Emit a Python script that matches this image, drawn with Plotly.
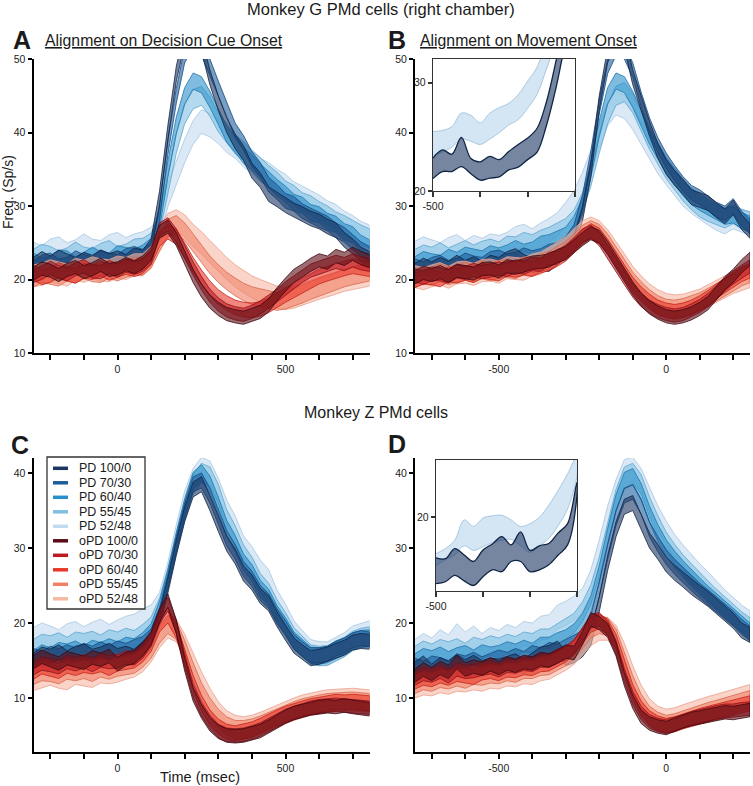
import plotly.graph_objects as go

W, H = 753, 786

# ---------------- time grids ----------------
T_CUE = list(range(-250, 751, 25))     # panels A, C (aligned on decision cue)
T_MOV = list(range(-750, 251, 25))     # panels B, D (aligned on movement onset)
T_INSET = list(range(-500, -199, 20))  # insets

SERIES = ["PD 100/0", "PD 70/30", "PD 60/40", "PD 55/45", "PD 52/48",
          "oPD 100/0", "oPD 70/30", "oPD 60/40", "oPD 55/45", "oPD 52/48"]
COLORS = ["#1b3561", "#1c5d9c", "#2a8fc9", "#7fbfe2", "#c2dbef",
          "#5a0d16", "#bd1b21", "#e9372b", "#f08166", "#f6b8a4"]
EDGES = ["#0f2445", "#154a80", "#1f77ad", "#5ea6cf", "#a6c8e3",
         "#3f0810", "#8f1218", "#c4241b", "#d9674c", "#eba08b"]
SEM = [1.0, 1.0, 1.1, 1.3, 1.6, 0.9, 0.9, 1.0, 1.2, 1.5]

# ---------------- Panel A : Monkey G, decision cue ----------------
A_PD100 = [22.0,22.8,22.2,23.0,22.5,22.0,22.7,22.3,23.0,22.5, 22.9,22.4,23.3,23.0,24.5,31.0,40.0,48.0,53.0,54.0, 52.0,47.5,44.0,41.0,38.8,37.2,34.8,33.5,31.6,30.9, 30.1,29.4,28.9,28.3,27.9,27.2,26.7,25.4,24.5,23.4, 22.8]
A_PD70 = [21.5,22.3,22.6,21.8,22.0,22.9,22.4,22.1,23.0,22.6, 22.4,23.2,23.5,23.1,24.0,29.0,38.0,45.0,50.5,52.5, 51.5,49.0,46.0,43.2,40.3,38.6,36.4,34.9,32.9,31.9, 30.7,30.3,29.3,28.7,28.1,27.6,26.7,26.1,25.1,24.1, 23.5]
A_PD60 = [22.5,21.8,22.1,22.9,22.8,22.0,22.6,23.3,22.7,22.5, 23.5,23.3,23.0,23.6,24.5,28.0,35.0,41.0,45.0,47.0, 46.5,44.5,42.2,39.8,38.4,36.9,35.9,34.6,33.6,32.5, 31.6,30.5,30.1,29.1,28.8,27.9,27.5,26.5,26.1,24.9, 24.3]
A_PD55 = [22.8,23.5,23.2,22.6,23.0,23.8,23.1,22.9,23.6,24.0, 23.2,23.5,24.2,24.3,25.0,27.5,33.0,38.5,42.5,44.5, 45.0,43.5,41.4,39.9,38.4,37.5,36.2,35.3,34.2,33.3, 32.1,31.5,30.5,30.1,29.3,28.7,27.9,27.4,26.7,26.1, 25.6]
A_PD52 = [23.5,23.0,23.9,24.2,23.4,23.8,24.6,23.9,23.7,24.5, 24.8,24.1,24.6,24.9,25.5,27.0,31.5,34.5,37.5,40.0, 41.5,41.0,40.1,38.9,38.1,36.9,36.1,34.9,34.3,33.4, 32.7,31.7,31.1,30.4,29.9,29.1,28.6,27.7,27.1,26.3, 25.8]
A_oPD100 = [20.8,21.5,21.2,20.6,21.3,21.7,21.0,21.4,22.0,21.3, 21.5,22.1,21.7,22.3,23.5,26.5,27.2,25.5,23.0,20.5, 18.5,17.0,16.0,15.3,15.0,14.8,15.2,15.6,16.5,18.0, 19.3,20.5,21.2,22.0,22.6,22.3,23.2,22.8,23.5,22.9, 22.5]
A_oPD70 = [20.5,20.9,21.6,21.0,20.7,21.4,21.8,21.1,21.0,21.7, 21.2,21.9,21.6,22.0,23.0,26.8,27.5,26.0,23.8,21.5, 19.5,17.8,16.6,15.8,15.4,15.2,15.6,16.2,17.0,17.8, 18.8,19.6,20.5,21.2,21.6,22.0,22.4,22.1,22.6,22.2, 22.0]
A_oPD60 = [20.9,20.3,20.6,21.3,20.8,20.5,21.2,21.0,21.5,20.9, 21.3,21.7,21.4,21.8,23.0,25.5,26.5,25.8,24.0,22.0, 20.3,18.8,17.6,16.8,16.2,15.9,15.8,16.0,16.5,17.2, 17.9,18.6,19.2,19.8,20.4,20.8,21.2,21.5,21.8,21.6, 21.4]
A_oPD55 = [20.2,20.8,20.6,20.3,21.0,20.7,21.3,20.9,20.8,21.4, 21.0,21.5,21.8,21.8,22.8,25.0,27.0,27.5,26.5,25.0, 23.5,22.0,20.8,19.8,19.0,18.3,17.8,17.5,17.2,17.0, 17.2,17.6,18.0,18.5,19.0,19.4,19.8,20.2,20.5,20.8, 21.0]
A_oPD52 = [20.5,20.7,21.2,20.9,20.6,21.4,21.1,21.6,21.3,21.2, 21.7,21.5,22.0,22.0,23.0,25.5,27.5,28.0,27.3,26.0, 25.0,23.8,22.6,21.5,20.5,19.7,19.0,18.5,18.0,17.6, 17.4,17.6,18.0,18.4,18.8,19.2,19.5,19.9,20.2,20.4, 20.6]

# ---------------- Panel B : Monkey G, movement onset ----------------
B_PD100 = [21.2,21.9,21.4,22.0,21.5,22.3,21.6,22.1,21.5,22.3, 22.0,22.8,23.2,22.4,21.9,22.2,22.1,23.0,23.9,25.0, 29.0,35.0,44.0,50.5,53.0,52.5,47.5,44.0,40.5,37.5, 35.3,33.8,32.6,31.2,30.8,30.4,29.4,28.6,29.8,27.8, 26.6]
B_PD70 = [21.8,21.4,22.0,22.3,21.6,21.9,22.6,22.2,22.0,22.8, 23.0,22.5,22.7,23.3,22.9,23.2,23.8,24.0,24.8,26.5, 30.5,36.5,43.5,49.0,51.5,51.0,48.5,44.5,41.0,38.3, 36.2,34.5,33.0,31.8,31.2,30.3,29.5,29.0,30.0,28.3, 27.2]
B_PD60 = [22.0,22.7,22.4,22.2,23.0,22.6,23.3,23.1,22.8,23.5, 23.2,23.6,24.2,23.7,24.0,24.8,25.0,25.5,26.0,27.5, 30.0,35.0,40.5,45.0,47.0,46.5,44.5,42.0,39.5,37.5, 35.5,34.0,32.5,31.3,30.5,29.8,29.2,28.6,28.8,28.0, 27.5]
B_PD55 = [22.8,23.4,23.1,23.7,23.0,23.5,24.0,23.4,23.9,24.2, 23.8,24.6,24.5,25.1,24.8,25.4,25.8,26.4,27.0,28.2, 30.5,34.0,38.5,42.5,45.0,45.5,44.0,41.5,39.0,37.0, 35.0,33.5,32.0,30.8,29.8,29.2,28.7,28.3,28.9,28.2, 27.9]
B_PD52 = [23.6,24.2,23.8,23.4,24.1,24.5,23.7,24.4,24.0,24.6, 24.4,24.8,25.6,25.9,25.3,26.1,26.7,27.5,28.9,30.5, 33.0,36.0,39.5,42.5,44.0,43.5,42.0,40.0,38.0,36.0, 34.5,33.0,31.6,30.6,29.8,29.0,28.3,27.8,28.5,28.0, 27.6]
B_oPD100 = [20.3,20.9,20.6,21.0,20.5,21.2,21.0,20.8,21.4,21.5, 21.1,21.8,21.6,21.9,22.3,22.4,22.6,23.2,23.6,24.5, 25.5,26.3,25.8,24.3,22.5,20.6,18.8,17.3,16.2,15.5, 15.0,14.8,15.0,15.4,16.0,16.8,18.2,19.5,20.5,21.8, 22.8]
B_oPD70 = [20.6,20.2,20.8,20.7,20.4,21.1,20.9,21.3,21.0,21.2, 21.5,21.3,21.8,21.6,22.1,22.0,22.8,23.0,23.8,24.8, 26.0,26.5,25.5,23.8,22.0,20.2,18.5,17.2,16.3,15.7, 15.3,15.1,15.3,15.8,16.4,17.2,18.3,19.3,20.3,21.0, 21.8]
B_oPD60 = [19.9,20.4,20.3,20.0,20.7,20.5,20.9,20.6,21.2,21.0, 20.8,21.5,21.3,21.6,21.4,21.9,22.2,22.8,23.5,24.6, 25.8,26.6,26.0,24.5,22.7,21.0,19.3,18.0,17.0,16.2, 15.8,15.6,15.8,16.2,16.8,17.5,18.4,19.2,20.0,20.7, 21.2]
B_oPD55 = [20.1,20.6,20.4,20.9,20.5,20.8,21.1,20.8,21.3,21.0, 21.4,21.5,21.3,21.9,21.7,22.3,22.6,23.3,24.0,25.0, 26.2,26.8,26.3,25.0,23.3,21.5,19.8,18.5,17.4,16.6, 16.1,16.0,16.2,16.6,17.0,17.6,18.2,18.9,19.6,20.3, 20.8]
B_oPD52 = [20.4,20.1,20.5,20.8,20.3,20.9,21.0,20.7,21.2,21.3, 21.0,21.6,21.5,21.4,22.0,22.2,22.9,23.6,24.3,25.4, 26.5,27.0,26.5,25.3,23.7,22.0,20.3,19.0,17.9,17.1, 16.6,16.4,16.5,16.8,17.2,17.8,18.4,19.0,19.6,20.0, 20.4]

# ---------------- Panel C : Monkey Z, decision cue ----------------
C_PD100 = [15.0,15.8,15.5,16.1,15.3,15.9,16.2,15.5,15.8,16.3, 15.6,15.9,15.5,16.5,17.5,20.5,25.0,30.0,34.5,37.8, 38.5,36.0,33.2,30.6,28.9,26.6,25.4,23.6,22.6,20.5, 18.7,17.0,16.1,15.3,15.5,15.8,16.3,16.7,17.4,17.6, 17.5]
C_PD70 = [15.6,15.2,15.9,15.6,16.1,15.7,16.3,15.9,16.5,16.0, 16.6,16.3,16.8,17.2,18.2,21.0,25.5,30.5,35.0,38.5, 39.0,37.0,34.2,31.3,29.5,27.2,25.9,24.0,22.9,20.9, 19.3,17.5,16.5,15.7,15.7,15.9,16.6,17.0,17.7,18.0, 17.8]
C_PD60 = [15.2,16.0,15.6,16.3,16.1,16.5,15.9,16.6,16.3,16.8, 16.4,17.0,16.8,17.6,18.8,21.8,26.0,31.0,35.5,39.0, 40.0,38.5,35.7,32.6,30.6,28.1,26.7,24.6,23.4,21.2, 19.6,17.7,16.7,15.7,15.6,15.8,16.4,16.9,17.6,17.9, 18.0]
C_PD55 = [16.5,17.2,17.0,17.4,16.8,17.5,17.3,17.6,17.1,17.8, 17.5,18.0,17.7,18.5,19.5,22.0,26.0,30.5,35.0,38.5, 40.0,39.5,37.2,33.8,31.7,29.1,27.5,25.3,24.0,21.8, 20.1,18.1,16.9,15.8,15.6,15.7,16.3,16.8,17.6,18.0, 18.2]
C_PD52 = [17.8,18.4,18.0,17.5,18.3,18.6,17.9,18.5,18.9,18.2, 18.8,19.3,19.6,20.3,20.8,22.5,26.5,31.5,36.0,39.0, 40.5,40.0,37.7,34.8,32.7,30.0,28.6,26.8,25.5,22.8, 20.9,18.7,17.4,16.2,15.9,15.9,16.5,17.1,18.0,18.4, 18.7]
C_oPD100 = [14.8,15.5,15.0,14.6,15.3,15.0,14.7,15.4,15.1,15.6, 14.5,15.2,15.5,16.5,18.0,21.0,23.0,19.5,14.5,10.5, 8.2,6.5,5.5,5.0,4.9,5.0,5.3,5.6,6.2,6.9, 7.5,8.0,8.3,8.6,8.8,8.9,8.8,9.0,8.8,8.6, 8.5]
C_oPD70 = [14.0,14.6,14.4,14.1,14.8,14.5,14.9,14.4,15.0,14.8, 14.9,15.4,15.3,16.2,17.8,20.8,22.5,19.5,15.0,11.0, 8.5,6.8,5.6,5.1,5.0,5.1,5.4,5.8,6.4,7.0, 7.6,8.0,8.4,8.7,8.9,9.0,9.1,9.0,8.9,8.8, 8.7]
C_oPD60 = [13.5,14.2,13.9,13.6,14.3,14.0,14.4,14.2,14.5,14.0, 14.6,14.8,15.0,15.8,17.2,19.8,21.0,19.0,15.5,12.0, 9.3,7.4,6.2,5.5,5.3,5.5,5.8,6.3,6.9,7.4, 7.9,8.3,8.6,8.9,9.1,9.3,9.5,9.4,9.5,9.4, 9.3]
C_oPD55 = [13.0,13.5,13.4,13.1,13.7,13.5,13.8,13.4,14.0,13.7, 14.1,14.3,14.5,15.3,16.5,18.5,19.8,19.0,16.5,13.5, 10.8,8.8,7.3,6.3,5.8,5.8,6.0,6.4,6.9,7.4, 7.9,8.3,8.7,9.0,9.2,9.4,9.5,9.5,9.6,9.5, 9.4]
C_oPD52 = [12.5,12.9,13.2,12.8,12.6,13.3,13.1,12.9,13.5,13.4, 13.6,14.0,14.3,15.0,16.3,18.2,19.5,19.0,17.0,14.5, 12.0,9.8,8.0,6.8,6.2,6.0,6.2,6.6,7.1,7.6, 8.1,8.5,8.9,9.2,9.4,9.6,9.7,9.8,9.8,9.7, 9.6]

# ---------------- Panel D : Monkey Z, movement onset ----------------
D_PD100 = [13.8,14.6,13.5,14.4,13.9,14.8,14.1,14.7,14.0,14.3, 14.2,14.5,14.9,14.2,15.0,15.8,16.0,16.6,15.3,15.7, 16.5,18.0,22.5,28.0,32.5,35.5,36.0,33.5,31.0,29.5, 27.8,26.7,25.8,24.8,24.0,23.2,22.2,21.3,20.3,19.0, 18.4]
D_PD70 = [14.3,13.9,14.6,14.4,14.0,14.9,14.6,15.1,14.5,14.9, 15.4,15.1,15.6,15.2,16.0,15.7,16.4,16.2,16.8,17.4, 18.0,20.0,24.5,29.5,34.0,37.0,37.5,35.5,32.5,30.5, 28.8,27.5,26.4,25.3,24.3,23.4,22.5,21.5,20.6,19.5, 18.6]
D_PD60 = [14.8,15.5,15.2,15.7,15.1,15.6,15.9,15.3,16.0,15.7, 15.9,16.4,16.1,16.6,16.2,17.0,17.0,17.6,18.0,18.8, 20.2,22.5,26.5,31.5,36.0,39.0,39.5,37.5,34.5,32.0, 30.0,28.5,27.2,26.0,24.9,23.8,22.8,21.8,20.8,19.8, 18.9]
D_PD55 = [15.6,16.3,15.9,16.5,16.2,16.6,16.0,16.8,16.5,17.0, 16.7,17.2,16.9,17.5,17.3,17.9,17.9,18.6,19.2,20.0, 21.5,23.8,27.5,32.0,36.5,39.5,40.0,38.5,35.5,33.0, 30.8,29.2,27.8,26.6,25.4,24.3,23.2,22.2,21.2,20.2, 19.4]
D_PD52 = [16.2,17.0,16.4,17.5,16.8,18.3,17.2,18.0,17.0,17.8, 17.4,18.2,17.8,18.6,18.4,19.3,19.5,20.8,21.3,22.0, 23.0,25.5,29.5,34.0,37.5,40.2,40.5,39.0,36.5,34.0, 32.0,30.2,28.8,27.5,26.3,25.2,24.0,22.8,21.8,20.8, 20.0]
D_oPD100 = [13.0,13.8,13.2,14.0,13.5,14.8,13.8,14.2,13.9,14.5, 14.0,14.6,14.3,14.8,14.6,15.2,15.0,15.5,16.2,16.0, 18.0,20.5,20.0,19.0,16.5,12.5,9.5,7.5,6.6,6.2, 6.0,6.4,6.9,7.2,7.4,7.6,7.9,8.1,8.0,8.2, 8.4]
D_oPD70 = [12.6,13.2,13.0,13.5,12.9,13.8,13.5,13.6,13.9,14.1, 13.7,14.3,14.2,14.6,14.4,15.0,15.0,15.6,16.0,16.8, 18.5,20.2,20.5,19.3,16.8,13.0,10.0,8.0,6.9,6.4, 6.2,6.5,6.9,7.3,7.6,7.8,8.1,8.3,8.3,8.5, 8.6]
D_oPD60 = [12.2,12.7,12.5,13.0,12.7,13.2,13.0,12.8,13.4,13.6, 13.3,13.8,13.7,14.1,14.0,14.5,14.6,15.2,15.8,16.8, 18.3,19.8,20.2,19.5,17.5,14.0,10.8,8.6,7.3,6.6, 6.3,6.5,6.9,7.3,7.6,7.9,8.2,8.5,8.7,9.0, 9.3]
D_oPD55 = [11.8,12.3,12.1,12.6,12.4,12.8,12.5,13.0,12.9,13.2, 13.1,13.5,13.3,13.8,13.8,14.2,14.3,14.9,15.5,16.4, 17.8,19.2,19.8,19.5,18.0,15.0,11.8,9.3,7.7,6.9, 6.5,6.7,7.1,7.5,7.9,8.2,8.5,8.8,9.1,9.4, 9.8]
D_oPD52 = [11.5,11.9,11.8,12.2,12.0,12.4,12.3,12.6,12.4,12.8, 12.7,13.1,13.0,13.4,13.3,13.8,14.0,14.6,15.2,16.0, 17.2,18.5,19.2,19.2,18.2,15.8,12.8,10.2,8.4,7.4, 7.0,7.2,7.6,8.0,8.4,8.7,9.0,9.3,9.6,9.9, 10.3]

# ---------------- Insets (PD 100/0 vs PD 52/48, -500 to -200 ms) ----------------
B_IN_PD100 = [22.1,22.8,22.6,23.6,22.3,21.85,22.2,22.1,22.8,23.25,23.9,24.7,27.2,30.8,35.0,38.0]
B_IN_PD100_SEM = [0.95,1.0,0.8,1.35,0.7,0.85,1.0,0.8,0.85,1.05,1.0,1.1,1.1,1.25,1.3,1.3]
B_IN_PD52 = [24.4,24.6,25.0,26.0,25.8,25.3,26.0,26.55,27.1,27.75,28.9,30.2,32.6,35.0,37.0,39.0]
B_IN_PD52_SEM = [1.1,1.0,0.95,1.2,1.2,1.0,1.2,1.15,1.0,1.15,1.25,1.25,1.3,1.3,1.3,1.3]
D_IN_PD100 = [14.2,14.25,15.15,14.5,13.9,15.0,15.7,16.0,16.1,16.8,15.25,15.6,16.0,17.1,18.15,23.1]
D_IN_PD100_SEM = [1.4,1.25,1.45,1.4,1.3,1.45,1.4,1.9,0.9,1.6,1.15,1.3,1.15,1.2,1.15,0.7]
D_IN_PD52 = [15.4,16.0,16.7,18.3,17.7,18.35,18.7,18.85,18.65,17.95,17.75,18.45,19.5,21.0,22.8,25.6]
D_IN_PD52_SEM = [0.65,0.6,0.8,1.4,1.3,1.55,1.45,1.35,1.05,1.05,1.55,1.55,1.8,1.9,1.9,1.05]

PANEL_A = [A_PD100, A_PD70, A_PD60, A_PD55, A_PD52, A_oPD100, A_oPD70, A_oPD60, A_oPD55, A_oPD52]
PANEL_B = [B_PD100, B_PD70, B_PD60, B_PD55, B_PD52, B_oPD100, B_oPD70, B_oPD60, B_oPD55, B_oPD52]
PANEL_C = [C_PD100, C_PD70, C_PD60, C_PD55, C_PD52, C_oPD100, C_oPD70, C_oPD60, C_oPD55, C_oPD52]
PANEL_D = [D_PD100, D_PD70, D_PD60, D_PD55, D_PD52, D_oPD100, D_oPD70, D_oPD60, D_oPD55, D_oPD52]

FONT = "Liberation Sans, Arial, Helvetica, sans-serif"


def rgba(hexc, a):
    h = hexc.lstrip('#')
    return "rgba(%d,%d,%d,%.2f)" % (int(h[0:2], 16), int(h[2:4], 16), int(h[4:6], 16), a)


def band(t, mean, sem, color, edge, xa, ya, alpha=0.6, shape='linear', width=0.8):
    if not isinstance(sem, list):
        sem = [sem] * len(mean)
    assert len(t) == len(mean) == len(sem)
    up = [m + s for m, s in zip(mean, sem)]
    lo = [m - s for m, s in zip(mean, sem)]
    return go.Scatter(x=t + t[::-1], y=up + lo[::-1], fill='toself',
                      fillcolor=rgba(color, alpha),
                      line=dict(color=edge, width=width, shape=shape),
                      mode='lines', hoverinfo='skip', showlegend=False,
                      xaxis=xa, yaxis=ya)


fig = go.Figure()
ORDER = [4, 3, 2, 1, 0, 9, 8, 7, 6, 5]
for t, panel, xa, ya in [(T_CUE, PANEL_A, 'x', 'y'), (T_MOV, PANEL_B, 'x2', 'y2'),
                         (T_CUE, PANEL_C, 'x3', 'y3'), (T_MOV, PANEL_D, 'x4', 'y4')]:
    for k in ORDER:
        fig.add_trace(band(t, panel[k], SEM[k], COLORS[k], EDGES[k], xa, ya))

# insets
for xa, ya, m52, s52, m100, s100 in [('x5', 'y5', B_IN_PD52, B_IN_PD52_SEM, B_IN_PD100, B_IN_PD100_SEM),
                                     ('x6', 'y6', D_IN_PD52, D_IN_PD52_SEM, D_IN_PD100, D_IN_PD100_SEM)]:
    fig.add_trace(band(T_INSET, m52, s52, COLORS[4], EDGES[4], xa, ya, alpha=0.7, shape='spline', width=1.0))
    fig.add_trace(band(T_INSET, m100, s100, COLORS[0], EDGES[0], xa, ya, alpha=0.6, shape='spline', width=1.3))


def fx(p):
    return p / W


def fy(p):
    return 1 - p / H


def xaxis(dom, rng, vals, labels, lw=2.0, mirror=False, lc='black'):
    return dict(domain=[fx(dom[0]), fx(dom[1])], range=rng, tickvals=vals, ticktext=labels,
                showline=True, linecolor=lc, linewidth=lw, mirror=mirror,
                ticks='outside', ticklen=5, tickwidth=1.5, tickcolor=lc,
                showgrid=False, zeroline=False, fixedrange=True, automargin=False,
                tickfont=dict(family=FONT, size=10.5, color='#222'))


def yaxis(dom, rng, vals, labels, lw=2.0, mirror=False, lc='black'):
    return dict(domain=[fy(dom[1]), fy(dom[0])], range=rng, tickvals=vals, ticktext=labels,
                showline=True, linecolor=lc, linewidth=lw, mirror=mirror,
                ticks='outside', ticklen=4, tickwidth=1.5, tickcolor=lc,
                showgrid=False, zeroline=False, fixedrange=True, automargin=False,
                tickfont=dict(family=FONT, size=10.5, color='#222'))


cue_ticks = list(range(-200, 701, 100))
cue_text = [str(v) if v in (0, 500) else '' for v in cue_ticks]
mov_ticks = list(range(-700, 201, 100))
mov_text = [str(v) if v in (-500, 0) else '' for v in mov_ticks]
in_ticks = [-500, -400, -300, -200]
in_text = ['-500', '', '', '']

layout = dict(
    template='none',
    width=W, height=H, autosize=False,
    margin=dict(l=0, r=0, t=0, b=0, pad=0, autoexpand=False),
    paper_bgcolor='white', plot_bgcolor='rgba(0,0,0,0)', showlegend=False,
    font=dict(family=FONT, color='#222'),
    xaxis=dict(xaxis((33.5, 369.5), [-250, 750], cue_ticks, cue_text), anchor='y'),
    yaxis=dict(yaxis((59, 353), [10, 50], [10, 20, 30, 40, 50], ['10', '20', '30', '40', '50']), anchor='x'),
    xaxis2=dict(xaxis((415, 750), [-750, 250], mov_ticks, mov_text), anchor='y2'),
    yaxis2=dict(yaxis((59, 353), [10, 50], [10, 20, 30, 40, 50], ['10', '20', '30', '40', '50']), anchor='x2'),
    xaxis3=dict(xaxis((33.5, 369.5), [-250, 750], cue_ticks, cue_text), anchor='y3'),
    yaxis3=dict(yaxis((458, 752), [2.8, 42], [10, 20, 30, 40], ['10', '20', '30', '40']), anchor='x3'),
    xaxis4=dict(xaxis((415, 750), [-750, 250], mov_ticks, mov_text), anchor='y4'),
    yaxis4=dict(yaxis((458, 752), [2.8, 42], [10, 20, 30, 40], ['10', '20', '30', '40']), anchor='x4'),
    xaxis5=dict(xaxis((433, 575), [-500, -200], in_ticks, in_text, lw=1.4, mirror=True, lc='#333'), anchor='y5'),
    yaxis5=dict(yaxis((59, 191), [20, 32.2], [20, 30], ['20', '30'], lw=1.4, mirror=True, lc='#333'), anchor='x5'),
    xaxis6=dict(xaxis((436, 577), [-500, -200], in_ticks, in_text, lw=1.4, mirror=True, lc='#333'), anchor='y6'),
    yaxis6=dict(yaxis((460, 591), [12, 26.2], [20], ['20'], lw=1.4, mirror=True, lc='#333'), anchor='x6'),
)
fig.update_layout(**layout)

ann = []


def text(x, y, s, size, xanchor='center', bold=False, angle=0):
    ann.append(dict(x=fx(x), y=fy(y), xref='paper', yref='paper', text=('<b>%s</b>' % s) if bold else s,
                    showarrow=False, xanchor=xanchor, yanchor='middle', textangle=angle,
                    font=dict(family=FONT, size=size, color='#1a1a1a')))


text(381, 9, "Monkey G PMd cells (right chamber)", 16.5)
text(376, 412, "Monkey Z PMd cells", 16)
text(22, 40, "A", 25, bold=True)
text(397, 40, "B", 25, bold=True)
text(20, 445, "C", 25, bold=True)
text(397, 444, "D", 25, bold=True)
text(43, 40, "<u>Alignment on Decision Cue Onset</u>", 15.8, xanchor='left')
text(418, 40, "<u>Alignment on Movement Onset</u>", 15.8, xanchor='left')
text(8, 192, "Freq. (Sp/s)", 14, angle=-90)
text(200, 777, "Time (msec)", 14.5)

shapes = [dict(type='rect', xref='paper', yref='paper', x0=fx(47), x1=fx(145), y0=fy(609), y1=fy(457),
               line=dict(color='#333', width=1.3), fillcolor='white', layer='above')]
for i, name in enumerate(SERIES):
    py = 468.3 + 14.5 * i
    shapes.append(dict(type='line', xref='paper', yref='paper', x0=fx(53), x1=fx(68), y0=fy(py), y1=fy(py),
                       line=dict(color=COLORS[i], width=3.5), layer='above'))
    text(77, py, name, 12.5, xanchor='left')

fig.update_layout(annotations=ann, shapes=shapes)
# remove the browser's default 8px body margin so the figure fills the window exactly
fig.write_html("out.html", config={'displayModeBar': False},
               post_script="document.body.style.margin='0';document.body.style.overflow='hidden';")
